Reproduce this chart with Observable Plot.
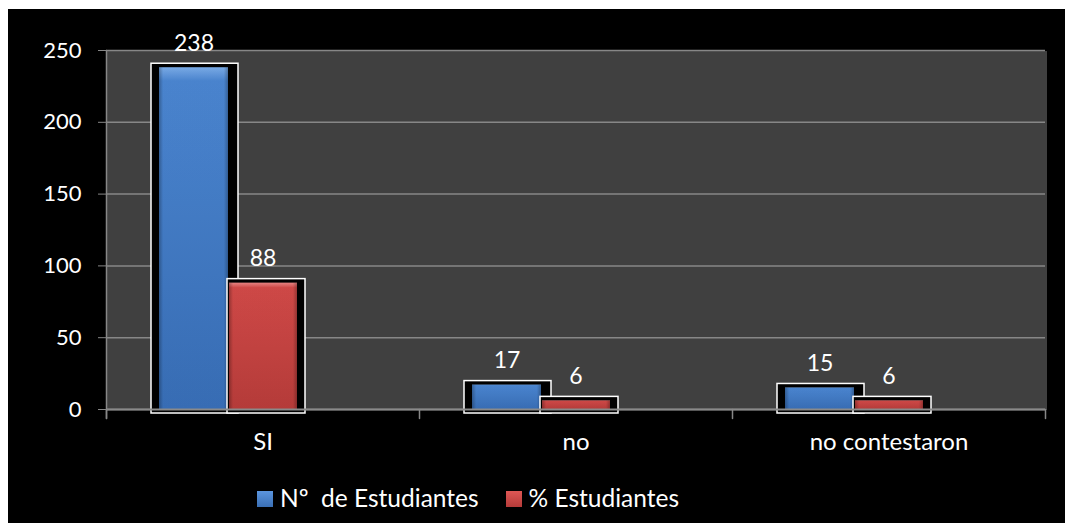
<!DOCTYPE html>
<html>
<head>
<meta charset="utf-8">
<script src="https://cdn.jsdelivr.net/npm/d3@7"></script>
<script src="https://cdn.jsdelivr.net/npm/@observablehq/plot@0.6"></script>
<style>
  html, body { margin: 0; padding: 0; background: #ffffff; }
  #chart { position: absolute; left: 8px; top: 9px; width: 1057px; height: 514px; background: #000; font-family: Lato, "Open Sans", sans-serif; }
  #legend { position: absolute; left: 249px; top: 474px; display: flex; align-items: center; color: #fff; font-size: 24.5px; white-space: pre; }
  .sw { width: 16px; height: 16px; margin-right: 7px; margin-top: 3px; }
  .item { display: flex; align-items: center; margin-right: 27px; }
</style>
</head>
<body>
<div id="chart"></div>
<script>
const categories = ["SI", "no", "no contestaron"];
const seriesNames = ["Nº  de Estudiantes", "% Estudiantes"];
const numEstudiantes = [238, 17, 15];
const pctEstudiantes = [88, 6, 6];
const yTicks = [0, 50, 100, 150, 200, 250];
const seriesKeys = ["n", "p", "empty"]; // third hidden slot as in the source chart

const rows = [];
categories.forEach((c, i) => {
  rows.push({category: c, series: "n", value: numEstudiantes[i]});
  rows.push({category: c, series: "p", value: pctEstudiantes[i]});
});
const blueRows = rows.filter(d => d.series === "n");
const redRows = rows.filter(d => d.series === "p");

const W = 1057, H = 455, mt = 41, mb = 55, ml = 97, mr = 20;
const plotH = H - mt - mb;
const lineShape = {draw(ctx, l) { ctx.moveTo(0, 0); ctx.lineTo(0, -l); }};
const axisGray = "#878787";

const plot = Plot.plot({
  width: W, height: H,
  marginTop: mt, marginBottom: mb, marginLeft: ml, marginRight: mr,
  style: {background: "transparent", color: "#fff", fontFamily: "Lato, 'Open Sans', sans-serif", fontSize: "22px", overflow: "visible"},
  fx: {domain: categories, padding: 0, label: null},
  x: {domain: seriesKeys, paddingInner: 0, paddingOuter: 0.74, axis: null},
  y: {domain: [0, 250], label: null},
  marks: [
    Plot.frame({fill: "#404040", stroke: null, shapeRendering: "crispEdges", insetRight: -1}),
    Plot.gridY(yTicks, {stroke: axisGray, strokeOpacity: 1, strokeWidth: 1.5}),
    Plot.axisY(yTicks, {tickSize: 8, tickPadding: 17, stroke: axisGray, fill: "#fff", fontSize: 22, label: null}),
    Plot.axisFx({anchor: "bottom", tickSize: 0, tickPadding: 23, fill: "#fff", fontSize: 24, label: null}),
    // y axis line and category boundary ticks
    Plot.vector([categories[0]], {fx: d => d, frameAnchor: "top-left", rotate: 180, length: plotH + 9, anchor: "start", shape: lineShape, stroke: axisGray, strokeWidth: 1.5}),
    Plot.vector(categories, {fx: d => d, frameAnchor: "bottom-left", rotate: 180, length: 9, anchor: "start", shape: lineShape, stroke: axisGray, strokeWidth: 1.5}),
    Plot.vector([categories[categories.length - 1]], {fx: d => d, frameAnchor: "bottom-right", rotate: 180, length: 9, anchor: "start", shape: lineShape, stroke: axisGray, strokeWidth: 1.5}),
    // blue series: outline/shadow, body, side shading
    Plot.barY(blueRows, {fx: "category", x: "series", y: "value", fill: "#000", stroke: "#fff", strokeWidth: 1.5, insetLeft: -8, insetRight: -10, insetTop: -4, insetBottom: -4}),
    Plot.barY(blueRows, {fx: "category", x: "series", y: "value", fill: "url(#gBlue)"}),
    Plot.barY(blueRows, {fx: "category", x: "series", y: "value", fill: "url(#gSide)"}),
    // red series
    Plot.barY(redRows, {fx: "category", x: "series", y: "value", fill: "#000", stroke: "#fff", strokeWidth: 1.5, insetLeft: -1, insetRight: -8, insetTop: -4, insetBottom: -4}),
    Plot.barY(redRows, {fx: "category", x: "series", y: "value", fill: "url(#gRed)", insetLeft: 1}),
    Plot.barY(redRows, {fx: "category", x: "series", y: "value", fill: "url(#gSide)", insetLeft: 1}),
    Plot.ruleY([0], {stroke: "#8a8a8a", strokeWidth: 2}),
    Plot.text(rows, {fx: "category", x: "series", y: "value", text: d => String(d.value), fill: "#fff", fontSize: 23, lineAnchor: "bottom", dy: -17})
  ]
});

const ns = "http://www.w3.org/2000/svg";
const defs = document.createElementNS(ns, "defs");
defs.innerHTML = `
  <linearGradient id="gBlue" x1="0" y1="0" x2="0" y2="1">
    <stop offset="0" stop-color="#7fb2f0"/>
    <stop offset="0.04" stop-color="#4d8ad8"/>
    <stop offset="1" stop-color="#3a72bd"/>
  </linearGradient>
  <linearGradient id="gRed" x1="0" y1="0" x2="0" y2="1">
    <stop offset="0" stop-color="#f28a88"/>
    <stop offset="0.04" stop-color="#d84c4a"/>
    <stop offset="1" stop-color="#be3e3c"/>
  </linearGradient>
  <linearGradient id="gSide" x1="0" y1="0" x2="1" y2="0">
    <stop offset="0" stop-color="#000" stop-opacity="0.3"/>
    <stop offset="0.06" stop-color="#000" stop-opacity="0.05"/>
    <stop offset="0.94" stop-color="#000" stop-opacity="0.05"/>
    <stop offset="1" stop-color="#000" stop-opacity="0.3"/>
  </linearGradient>`;
plot.insertBefore(defs, plot.firstChild);
document.getElementById("chart").appendChild(plot);

const legend = document.createElement("div");
legend.id = "legend";
const grads = ["linear-gradient(#5b95de, #3a6fb5)", "linear-gradient(#de5755, #b53b39)"];
seriesNames.forEach((name, i) => {
  const item = document.createElement("div");
  item.className = "item";
  const sw = document.createElement("div");
  sw.className = "sw";
  sw.style.background = grads[i];
  const t = document.createElement("span");
  t.textContent = name;
  item.appendChild(sw); item.appendChild(t);
  legend.appendChild(item);
});
document.getElementById("chart").appendChild(legend);
</script>
</body>
</html>
